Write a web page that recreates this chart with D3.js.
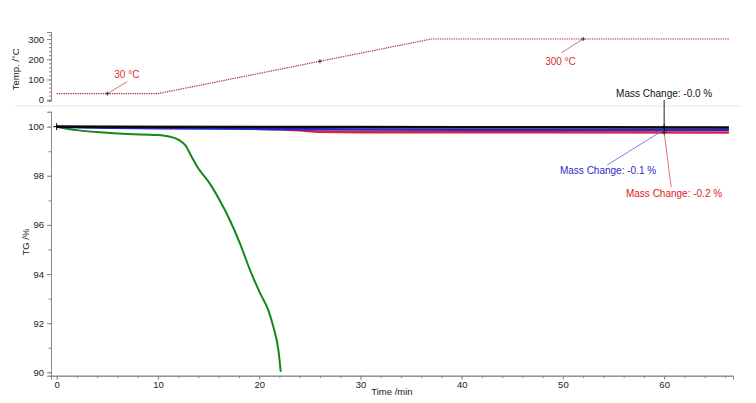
<!DOCTYPE html>
<html>
<head>
<meta charset="utf-8">
<script src="https://cdn.jsdelivr.net/npm/d3@7"></script>
<style>
  body { margin: 0; background: #fff; }
  svg { display: block; font-family: "Liberation Sans", Arial, sans-serif; }
</style>
</head>
<body>
<svg id="chart" width="756" height="403"></svg>
<script>
// temperature programme
const tempTime = [0, 10, 37, 66.4];
const tempVal = [30, 30, 300, 300];
const tempMarks = [[5, 30], [26, 190], [52, 300]];

// TG curves (time /min, TG /%)
const greenTime = [0, 2, 4.3, 7, 9.9, 11.2, 12.1, 12.7, 13.3, 14.0, 15.1, 16.1, 17.1, 18.1, 19.1, 20.1, 20.9, 21.4, 21.9, 22.13];
const greenTG = [100, 99.86, 99.77, 99.7, 99.66, 99.59, 99.45, 99.25, 98.8, 98.3, 97.7, 97.0, 96.2, 95.25, 94.16, 93.21, 92.53, 91.85, 90.9, 90.02];

const redTime = [0, 10, 15, 20, 24, 26, 30, 45, 66.4];
const redTG = [100, 99.98, 99.96, 99.92, 99.85, 99.79, 99.77, 99.77, 99.76];

const blueTime = [0, 5, 10, 20, 30, 40, 50, 66.4];
const blueTG = [100, 99.96, 99.94, 99.91, 99.89, 99.88, 99.88, 99.87];

const blackTime = [0, 20, 40, 66.4];
const blackTG = [100, 99.99, 99.98, 99.97];

const xTicks = [0, 10, 20, 30, 40, 50, 60];
const tgTicks = [90, 92, 94, 96, 98, 100];
const tempTicks = [0, 100, 200, 300];

const massLabels = ['Mass Change: -0.0 %', 'Mass Change: -0.1 %', 'Mass Change: -0.2 %'];
const tempLabels = ['30 °C', '300 °C'];

const svg = d3.select('#chart');

const x = d3.scaleLinear().domain([-0.56, 66.8]).range([51, 733]);
const yTG = d3.scaleLinear().domain([89.86, 100.61]).range([375.7, 111.7]);
const yT = d3.scaleLinear().domain([-5, 334.6]).range([100.7, 32]);

const axisStyle = g => {
  g.selectAll('.domain').attr('stroke', '#8a8a8a');
  g.selectAll('line').attr('stroke', '#8a8a8a');
  g.selectAll('text').attr('fill', '#222').attr('font-size', 9.5)
    .attr('font-family', '"Liberation Sans", Arial, sans-serif');
};

// faint panel separator
svg.append('line')
  .attr('x1', 15).attr('x2', 740).attr('y1', 106).attr('y2', 106)
  .attr('stroke', '#f2f2f2').attr('stroke-width', 2);

// ---- top panel: temperature ----
svg.append('g').attr('transform', `translate(${x.range()[0]},0)`)
  .call(d3.axisLeft(yT).tickValues(d3.range(0, 335, 20)).tickSize(2).tickFormat(''))
  .call(axisStyle);
svg.append('g').attr('transform', `translate(${x.range()[0]},0)`)
  .call(d3.axisLeft(yT).tickValues(tempTicks).tickSize(4).tickPadding(3))
  .call(axisStyle);

svg.append('text')
  .attr('transform', `translate(19,${(yT(0) + yT(300)) / 2}) rotate(-90)`)
  .attr('text-anchor', 'middle').attr('font-size', 9.5).attr('fill', '#222')
  .text('Temp. /°C');

const tempLine = d3.line().x((d, i) => x(tempTime[i])).y(d => yT(d));
svg.append('path')
  .attr('d', tempLine(tempVal))
  .attr('fill', 'none').attr('stroke', '#bb3844').attr('stroke-width', 1.2)
  .attr('stroke-dasharray', '1.4,0.9');

const cross = (g, cx, cy, color, s = 3) => {
  g.append('path')
    .attr('d', `M${cx - s},${cy}H${cx + s}M${cx},${cy - s}V${cy + s}`)
    .attr('stroke', color).attr('stroke-width', 1).attr('fill', 'none');
};

// temperature annotations
const ann = svg.append('g');
const tA = tempMarks[0], tB = tempMarks[2];
ann.append('line')
  .attr('x1', x(tA[0])).attr('y1', yT(tA[1]))
  .attr('x2', x(tA[0]) + 20).attr('y2', yT(tA[1]) - 12)
  .attr('stroke', '#c85050').attr('stroke-width', 0.8);
ann.append('text').attr('x', x(tA[0]) + 7).attr('y', yT(tA[1]) - 16)
  .attr('font-size', 10).attr('fill', '#d43030').text(tempLabels[0]);
ann.append('line')
  .attr('x1', x(tB[0])).attr('y1', yT(tB[1]))
  .attr('x2', x(tB[0]) - 22).attr('y2', yT(tB[1]) + 14)
  .attr('stroke', '#c85050').attr('stroke-width', 0.8);
ann.append('text').attr('x', x(tB[0]) - 38).attr('y', yT(tB[1]) + 26)
  .attr('font-size', 10).attr('fill', '#d43030').text(tempLabels[1]);
tempMarks.forEach(m => cross(ann, x(m[0]), yT(m[1]), '#333', 2));

// ---- bottom panel: TG ----
svg.append('g').attr('transform', `translate(0,${yTG.range()[0]})`)
  .call(d3.axisBottom(x).tickValues(d3.range(0, 67, 2)).tickSize(2.5).tickFormat(''))
  .call(axisStyle);
svg.append('g').attr('transform', `translate(0,${yTG.range()[0]})`)
  .call(d3.axisBottom(x).tickValues(xTicks).tickSize(4).tickPadding(2))
  .call(axisStyle);

svg.append('g').attr('transform', `translate(${x.range()[0]},0)`)
  .call(d3.axisLeft(yTG).tickValues(d3.range(90, 101, 1)).tickSize(2.5).tickFormat(''))
  .call(axisStyle);
svg.append('g').attr('transform', `translate(${x.range()[0]},0)`)
  .call(d3.axisLeft(yTG).tickValues(tgTicks).tickSize(4).tickPadding(3))
  .call(axisStyle);

svg.append('text')
  .attr('transform', `translate(29,${yTG(95.3)}) rotate(-90)`)
  .attr('text-anchor', 'middle').attr('font-size', 9.5).attr('fill', '#222')
  .text('TG /%');
svg.append('text')
  .attr('x', 392).attr('y', 395)
  .attr('text-anchor', 'middle').attr('font-size', 9.5).attr('fill', '#222')
  .text('Time /min');

const tgLine = times => d3.line()
  .x((d, i) => x(times[i])).y(d => yTG(d))
  .curve(d3.curveMonotoneX);

const series = [
  { t: greenTime, v: greenTG, color: '#14881a', w: 2 },
  { t: redTime, v: redTG, color: '#e0203a', w: 2.5 },
  { t: blueTime, v: blueTG, color: '#2626d8', w: 2.5 },
  { t: blackTime, v: blackTG, color: '#0a0a14', w: 2.5 }
];
series.forEach(s => {
  svg.append('path')
    .attr('d', tgLine(s.t)(s.v))
    .attr('fill', 'none').attr('stroke', s.color).attr('stroke-width', s.w)
    .attr('stroke-linejoin', 'round');
});

cross(svg, x(0), yTG(100), '#000', 3.5);

// mass change annotations at 60 min
const mx = x(60);
const mg = svg.append('g');
mg.append('line')
  .attr('x1', mx).attr('x2', mx).attr('y1', 100).attr('y2', yTG(99.75))
  .attr('stroke', '#222').attr('stroke-width', 1);
mg.append('text').attr('x', mx).attr('y', 97)
  .attr('text-anchor', 'middle').attr('font-size', 10).attr('fill', '#111')
  .text(massLabels[0]);

mg.append('line')
  .attr('x1', mx).attr('y1', yTG(99.88))
  .attr('x2', mx - 57).attr('y2', 165)
  .attr('stroke', '#6060d8').attr('stroke-width', 0.8);
mg.append('text').attr('x', mx - 8).attr('y', 174)
  .attr('text-anchor', 'end').attr('font-size', 10).attr('fill', '#2a2ac8')
  .text(massLabels[1]);

mg.append('line')
  .attr('x1', mx).attr('y1', yTG(99.77))
  .attr('x2', mx + 7).attr('y2', 187)
  .attr('stroke', '#d85050').attr('stroke-width', 0.8);
mg.append('text').attr('x', mx + 58).attr('y', 197)
  .attr('text-anchor', 'end').attr('font-size', 10).attr('fill', '#e02020')
  .text(massLabels[2]);

cross(mg, mx, yTG(99.97), '#000', 3);
cross(mg, mx, yTG(99.77), '#222', 2.5);
</script>
</body>
</html>
